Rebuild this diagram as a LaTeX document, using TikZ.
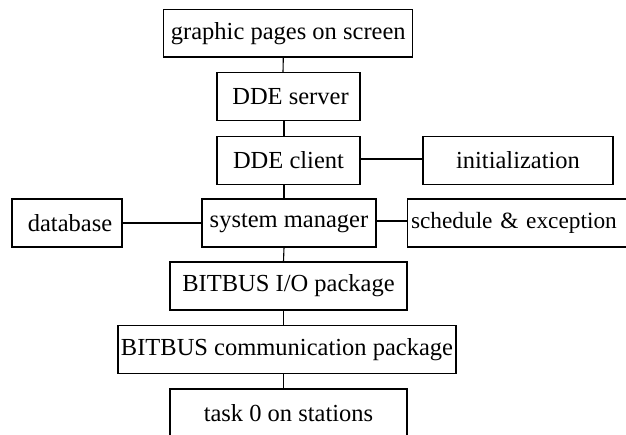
\documentclass[tikz,border=0pt]{standalone}
\usepackage{fontspec}
\setmainfont{Liberation Serif}
\begin{document}
\begin{tikzpicture}[x=1pt,y=-1pt,
  blk/.style={draw,line width=1.1pt,inner sep=0pt,minimum height=47.5pt,font=\fontsize{24.5}{26}\selectfont},
  conn/.style={line width=1.1pt}]
\useasboundingbox (0,0) rectangle (626,435);
\clip (0,0) rectangle (626,435);
\node[blk,minimum width=249pt] (gp) at (288.3,33.3) {graphic pages on screen};
\node[blk,minimum width=143pt] (srv) at (288.5,96.5) {\hspace{4pt}DDE server};
\node[blk,minimum width=143pt] (cli) at (288.5,160.5) {DDE client};
\node[blk,minimum width=190pt] (init) at (518,160.5) {initialization};
\node[blk,minimum width=174pt,minimum height=48pt] (sys) at (289,223) {system manager};
\node[blk,minimum width=110pt,minimum height=48pt] (db) at (67,223) {\hspace{6pt}database};
\node[blk,minimum height=48pt,anchor=west,text width=240pt,inner xsep=3.5pt,align=left,font=\fontsize{23.3}{26}\selectfont] (sch) at (407,223) {schedule \& exception};
\node[blk,minimum width=237pt,minimum height=48pt] (io) at (288.5,286) {BITBUS I/O package};
\node[blk,minimum width=338pt] (comm) at (287,349.5) {BITBUS communication package};
\node[blk,minimum width=237pt,minimum height=48pt] (task) at (288.5,413) {task 0 on stations};
\draw[conn] ([xshift=-5pt]gp.south) -- ([xshift=-5.5pt]srv.north);
\draw[conn] ([xshift=-4.5pt]srv.south) -- ([xshift=-4.5pt]cli.north);
\draw[conn] ([xshift=-4.5pt]cli.south) -- ([xshift=-5pt]sys.north);
\draw[conn] ([yshift=1.5pt]cli.east) -- ([yshift=1.5pt]init.west);
\draw[conn] (db.east) -- (sys.west);
\draw[conn] ([yshift=2pt]sys.east) -- ([yshift=2pt]sch.west);
\draw[conn] ([xshift=-5pt]sys.south) -- ([xshift=-5pt]io.north);
\draw[conn] ([xshift=-5pt]io.south) -- ([xshift=-3.5pt]comm.north);
\draw[conn] ([xshift=-3.5pt]comm.south) -- ([xshift=-5pt]task.north);
\end{tikzpicture}
\end{document}
